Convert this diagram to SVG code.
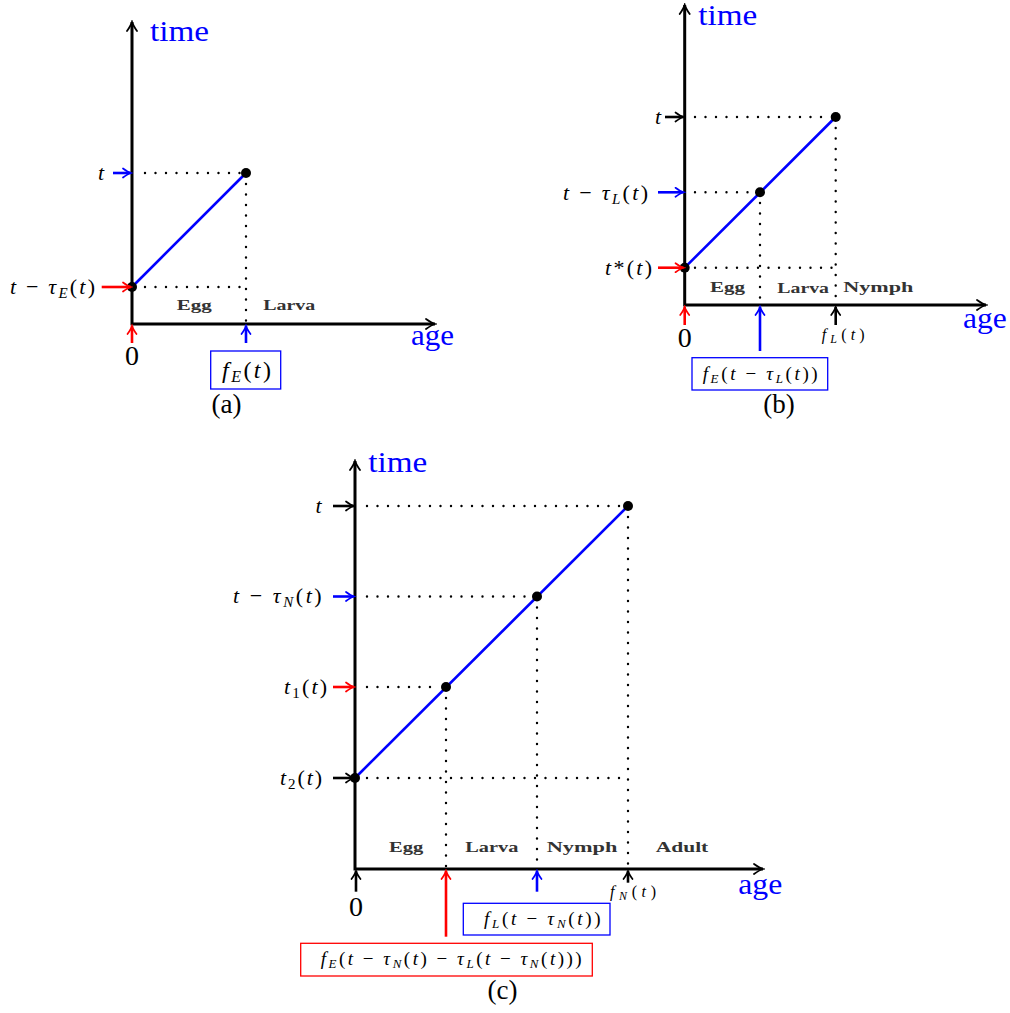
<svg xmlns="http://www.w3.org/2000/svg" width="1010" height="1013" viewBox="0 0 1010 1013">
<defs>
<style>
.ax{fill:none;stroke:#000;stroke-width:3;marker-start:url(#ah-ax-s);marker-end:url(#ah-ax)}
.cv{stroke:#0000ff;stroke-width:2.6;fill:none}
.dt{stroke:#000;stroke-width:2.4;stroke-dasharray:0 10.5;stroke-linecap:round;fill:none}
.pt{fill:#000}
.ak{stroke:#000;stroke-width:2.6;marker-end:url(#ah-k)}
.ab{stroke:#0000ff;stroke-width:2.6;marker-end:url(#ah-b)}
.ar{stroke:#ff0000;stroke-width:2.6;marker-end:url(#ah-r)}
.bx{fill:none;stroke-width:1.3}
text{font-family:"Liberation Serif","Times New Roman",serif;fill:#000}
.ttl{font-size:29px;fill:#0000ff}
.m{font-size:22px}
.mb{font-size:19px}
.ms{font-size:16px}
.i{font-style:italic}
.st{font-size:15px;font-weight:bold;fill:#333}
.zero{font-size:28px;text-anchor:middle}
.cap{font-size:27px;text-anchor:middle}
</style>
<marker id="ah-ax" viewBox="-12 -7 14 14" refX="0" refY="0" markerWidth="14" markerHeight="14" markerUnits="userSpaceOnUse" orient="auto"><path d="M-9,-5 Q-3,-0.8 0,0 Q-3,0.8 -9,5" fill="none" stroke="#000" stroke-width="1.8" stroke-linecap="round"/></marker>
<marker id="ah-ax-s" viewBox="-12 -7 14 14" refX="0" refY="0" markerWidth="14" markerHeight="14" markerUnits="userSpaceOnUse" orient="auto-start-reverse"><path d="M-9,-5 Q-3,-0.8 0,0 Q-3,0.8 -9,5" fill="none" stroke="#000" stroke-width="1.8" stroke-linecap="round"/></marker>
<marker id="ah-k" viewBox="-10 -6 12 12" refX="0" refY="0" markerWidth="12" markerHeight="12" markerUnits="userSpaceOnUse" orient="auto"><path d="M-8,-4.5 Q-3,-0.8 0,0 Q-3,0.8 -8,4.5" fill="none" stroke="#000" stroke-width="1.7" stroke-linecap="round"/></marker>
<marker id="ah-b" viewBox="-10 -6 12 12" refX="0" refY="0" markerWidth="12" markerHeight="12" markerUnits="userSpaceOnUse" orient="auto"><path d="M-8,-4.5 Q-3,-0.8 0,0 Q-3,0.8 -8,4.5" fill="none" stroke="#0000ff" stroke-width="1.7" stroke-linecap="round"/></marker>
<marker id="ah-r" viewBox="-10 -6 12 12" refX="0" refY="0" markerWidth="12" markerHeight="12" markerUnits="userSpaceOnUse" orient="auto"><path d="M-8,-4.5 Q-3,-0.8 0,0 Q-3,0.8 -8,4.5" fill="none" stroke="#ff0000" stroke-width="1.7" stroke-linecap="round"/></marker>
</defs>

<!-- Panel (a) -->
<g id="panel-a">
  <g id="a-guides">
    <line class="dt" x1="145" y1="173" x2="240" y2="173"/>
    <line class="dt" x1="145" y1="287" x2="240" y2="287"/>
    <line class="dt" x1="246" y1="184" x2="246" y2="324"/>
  </g>
  <path id="a-axes" class="ax" d="M132,22 V324 H435"/>
  <line id="a-curve" class="cv" x1="132" y1="287" x2="246" y2="173"/>
  <g id="a-points"><circle class="pt" cx="132" cy="287" r="5"/><circle class="pt" cx="246" cy="173" r="5"/></g>
  <text class="ttl" x="150" y="41" textLength="59" lengthAdjust="spacingAndGlyphs">time</text>
  <text class="ttl" x="411" y="345" textLength="43" lengthAdjust="spacingAndGlyphs">age</text>
  <text class="m" x="98" y="180"><tspan class="i">t</tspan></text>
  <text class="m" x="10" y="294" textLength="85"><tspan class="i">t</tspan> − <tspan class="i">τ</tspan><tspan class="i" font-size="15" dy="4">E</tspan><tspan dy="-4">(</tspan><tspan class="i">t</tspan>)</text>
  <text class="zero" x="132" y="365">0</text>
  <text class="st" x="176.7" y="310" textLength="35" lengthAdjust="spacingAndGlyphs">Egg</text>
  <text class="st" x="263.3" y="310" textLength="52" lengthAdjust="spacingAndGlyphs">Larva</text>
  <g id="a-box-fE"><rect class="bx" stroke="#0000ff" x="210.7" y="351" width="70" height="38"/>
  <text x="222" y="378" font-size="24" textLength="49"><tspan class="i">f</tspan><tspan class="i" font-size="16" dy="4">E</tspan><tspan dy="-4">(</tspan><tspan class="i">t</tspan>)</text></g>
  <text class="cap" x="226.5" y="413">(a)</text>
</g>

<!-- Panel (b) -->
<g id="panel-b">
  <g id="b-guides">
    <line class="dt" x1="695" y1="117" x2="828" y2="117"/>
    <line class="dt" x1="695" y1="192.3" x2="752" y2="192.3"/>
    <line class="dt" x1="695" y1="267.7" x2="835" y2="267.7"/>
    <line class="dt" x1="760" y1="203" x2="760" y2="305"/>
    <line class="dt" x1="835.7" y1="128" x2="835.7" y2="305"/>
  </g>
  <path id="b-axes" class="ax" d="M684.7,5 V305 H986"/>
  <line id="b-curve" class="cv" x1="684.7" y1="267.7" x2="835.7" y2="117"/>
  <g id="b-points"><circle class="pt" cx="684.7" cy="267.7" r="5"/><circle class="pt" cx="760" cy="192.3" r="5"/><circle class="pt" cx="835.7" cy="117" r="5"/></g>
  <text class="ttl" x="698.3" y="25" textLength="59" lengthAdjust="spacingAndGlyphs">time</text>
  <text class="ttl" x="963" y="328" textLength="43.7" lengthAdjust="spacingAndGlyphs">age</text>
  <text class="m" x="655" y="124"><tspan class="i">t</tspan></text>
  <text class="m" x="563" y="200" textLength="85"><tspan class="i">t</tspan> − <tspan class="i">τ</tspan><tspan class="i" font-size="15" dy="4">L</tspan><tspan dy="-4">(</tspan><tspan class="i">t</tspan>)</text>
  <text class="m" x="605" y="275" textLength="47"><tspan class="i">t</tspan>*(<tspan class="i">t</tspan>)</text>
  <text class="zero" x="684.7" y="346.5">0</text>
  <text class="ms" x="821.7" y="340" textLength="43"><tspan class="i">f</tspan><tspan class="i" font-size="12" dy="3">L</tspan><tspan dy="-3">(</tspan><tspan class="i">t</tspan>)</text>
  <text class="st" x="710" y="292" textLength="35" lengthAdjust="spacingAndGlyphs">Egg</text>
  <text class="st" x="777.3" y="293" textLength="51.7" lengthAdjust="spacingAndGlyphs">Larva</text>
  <text class="st" x="843.3" y="292" textLength="70" lengthAdjust="spacingAndGlyphs">Nymph</text>
  <g id="b-box-fE"><rect class="bx" stroke="#0000ff" x="692" y="357.7" width="135.7" height="32.3"/>
  <text class="mb" x="702.7" y="380" textLength="115"><tspan class="i">f</tspan><tspan class="i" font-size="13" dy="3">E</tspan><tspan dy="-3">(</tspan><tspan class="i">t</tspan> − <tspan class="i">τ</tspan><tspan class="i" font-size="13" dy="3">L</tspan><tspan dy="-3">(</tspan><tspan class="i">t</tspan>))</text></g>
  <text class="cap" x="779" y="413">(b)</text>
</g>

<!-- Panel (c) -->
<g id="panel-c">
  <g id="c-guides">
    <line class="dt" x1="367" y1="506" x2="620" y2="506"/>
    <line class="dt" x1="367" y1="596.5" x2="530" y2="596.5"/>
    <line class="dt" x1="367" y1="687" x2="438" y2="687"/>
    <line class="dt" x1="367" y1="778" x2="628" y2="778"/>
    <line class="dt" x1="446" y1="698" x2="446" y2="869"/>
    <line class="dt" x1="537" y1="607.5" x2="537" y2="869"/>
    <line class="dt" x1="628" y1="517" x2="628" y2="869"/>
  </g>
  <path id="c-axes" class="ax" d="M355,461 V869 H763"/>
  <line id="c-curve" class="cv" x1="355" y1="778" x2="628" y2="506"/>
  <g id="c-points"><circle class="pt" cx="355" cy="778" r="5"/><circle class="pt" cx="446" cy="687" r="5"/><circle class="pt" cx="537" cy="596.5" r="5"/><circle class="pt" cx="628" cy="506" r="5"/></g>
  <text class="ttl" x="368.3" y="471.7" textLength="59" lengthAdjust="spacingAndGlyphs">time</text>
  <text class="ttl" x="738.3" y="894" textLength="44" lengthAdjust="spacingAndGlyphs">age</text>
  <text class="m" x="315.5" y="513"><tspan class="i">t</tspan></text>
  <text class="m" x="233" y="603" textLength="88.7"><tspan class="i">t</tspan> − <tspan class="i">τ</tspan><tspan class="i" font-size="15" dy="4">N</tspan><tspan dy="-4">(</tspan><tspan class="i">t</tspan>)</text>
  <text class="m" x="284" y="694" textLength="43"><tspan class="i">t</tspan><tspan font-size="15" dy="4">1</tspan><tspan dy="-4">(</tspan><tspan class="i">t</tspan>)</text>
  <text class="m" x="280" y="785" textLength="42"><tspan class="i">t</tspan><tspan font-size="15" dy="4">2</tspan><tspan dy="-4">(</tspan><tspan class="i">t</tspan>)</text>
  <text class="zero" x="356" y="916">0</text>
  <text class="ms" x="610" y="896.5" textLength="46"><tspan class="i">f</tspan><tspan class="i" font-size="12" dy="3">N</tspan><tspan dy="-3">(</tspan><tspan class="i">t</tspan>)</text>
  <text class="st" x="389" y="851.7" textLength="34.3" lengthAdjust="spacingAndGlyphs">Egg</text>
  <text class="st" x="465.3" y="851.7" textLength="53" lengthAdjust="spacingAndGlyphs">Larva</text>
  <text class="st" x="546.7" y="851.7" textLength="70.6" lengthAdjust="spacingAndGlyphs">Nymph</text>
  <text class="st" x="655.7" y="851.7" textLength="52.6" lengthAdjust="spacingAndGlyphs">Adult</text>
  <g id="c-box-fL"><rect class="bx" stroke="#0000ff" x="463.3" y="903.3" width="146.7" height="31.7"/>
  <text class="mb" x="484" y="925" textLength="116.7"><tspan class="i">f</tspan><tspan class="i" font-size="13" dy="3">L</tspan><tspan dy="-3">(</tspan><tspan class="i">t</tspan> − <tspan class="i">τ</tspan><tspan class="i" font-size="13" dy="3">N</tspan><tspan dy="-3">(</tspan><tspan class="i">t</tspan>))</text></g>
  <g id="c-box-fE"><rect class="bx" stroke="#ff0000" x="300.7" y="943.3" width="291.6" height="32.7"/>
  <text class="mb" x="320.7" y="965" textLength="261"><tspan class="i">f</tspan><tspan class="i" font-size="13" dy="3">E</tspan><tspan dy="-3">(</tspan><tspan class="i">t</tspan> − <tspan class="i">τ</tspan><tspan class="i" font-size="13" dy="3">N</tspan><tspan dy="-3">(</tspan><tspan class="i">t</tspan>) − <tspan class="i">τ</tspan><tspan class="i" font-size="13" dy="3">L</tspan><tspan dy="-3">(</tspan><tspan class="i">t</tspan> − <tspan class="i">τ</tspan><tspan class="i" font-size="13" dy="3">N</tspan><tspan dy="-3">(</tspan><tspan class="i">t</tspan>)))</text></g>
  <text class="cap" x="502.5" y="999">(c)</text>
</g>

<!-- Connectors (arrows) -->
<g id="connectors">
  <line class="ab" x1="113" y1="173" x2="131" y2="173"/>
  <line class="ar" x1="101.7" y1="287" x2="131" y2="287"/>
  <line class="ar" x1="132" y1="343" x2="132" y2="326"/>
  <line class="ab" x1="246" y1="343" x2="246" y2="326"/>

  <line class="ak" x1="665" y1="117" x2="683.5" y2="117"/>
  <line class="ab" x1="658" y1="192.3" x2="683.5" y2="192.3"/>
  <line class="ar" x1="658" y1="267.7" x2="683.5" y2="267.7"/>
  <line class="ar" x1="684.7" y1="325" x2="684.7" y2="307"/>
  <line class="ab" x1="760" y1="351" x2="760" y2="307"/>
  <line class="ak" x1="835.7" y1="325" x2="835.7" y2="307"/>

  <line class="ak" x1="333" y1="506" x2="354" y2="506"/>
  <line class="ab" x1="333" y1="596.5" x2="354" y2="596.5"/>
  <line class="ar" x1="333" y1="687" x2="354" y2="687"/>
  <line class="ak" x1="333" y1="778" x2="354" y2="778"/>
  <line class="ak" x1="356" y1="891.7" x2="356" y2="871"/>
  <line class="ar" x1="446" y1="936.7" x2="446" y2="871"/>
  <line class="ab" x1="537" y1="891.7" x2="537" y2="871"/>
  <line class="ak" x1="628" y1="882.7" x2="628" y2="871"/>
</g>
</svg>
